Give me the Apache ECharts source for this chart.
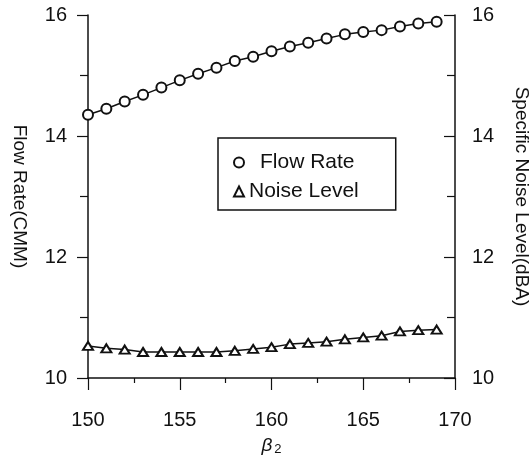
<!DOCTYPE html>
<html lang="en">
<head>
    <meta charset="UTF-8">
    <title>Flow Rate / Noise Level</title>
    <script src="https://cdn.jsdelivr.net/npm/echarts@6/dist/echarts.min.js"></script>
    <style>
        html, body { margin: 0; padding: 0; background: #fff; }
        #chart { width: 530px; height: 457px; }
    </style>
</head>
<body>
<div id="chart"></div>
<script>
    // beta2 values
    var beta2 = [150, 151, 152, 153, 154, 155, 156, 157, 158, 159,
                 160, 161, 162, 163, 164, 165, 166, 167, 168, 169];
    // Flow Rate (CMM), left axis
    var flowRate = [14.35, 14.45, 14.57, 14.68, 14.80, 14.92, 15.03, 15.13, 15.24, 15.31,
                    15.40, 15.48, 15.54, 15.61, 15.68, 15.72, 15.75, 15.81, 15.86, 15.89];
    // Specific noise level (dBA), right axis
    var noiseLevel = [10.53, 10.49, 10.47, 10.43, 10.43, 10.43, 10.43, 10.43, 10.45, 10.48,
                      10.51, 10.56, 10.58, 10.60, 10.64, 10.67, 10.70, 10.77, 10.79, 10.80];

    function pairs(ys) {
        return beta2.map(function (x, i) { return [x, ys[i]]; });
    }

    var font = "'Liberation Sans', Arial, sans-serif";
    var ink = '#111';

    var myChart = echarts.init(document.getElementById('chart'));

    function yAxisBase(pos, inside) {
        return {
            type: 'value',
            position: pos,
            min: 10,
            max: 16,
            interval: 2,
            axisLine: { show: true, lineStyle: { color: ink, width: 1.5 } },
            axisTick: { show: true, inside: inside, length: 11, lineStyle: { color: ink, width: 1.2 } },
            minorTick: { show: true, splitNumber: 2, length: 8, lineStyle: { color: ink, width: 1.2 } },
            splitLine: { show: false },
            axisLabel: { color: ink, fontSize: 20, fontFamily: font },
            nameLocation: 'middle',
            nameRotate: -90,
            nameTextStyle: { color: ink, fontSize: 19, fontFamily: font }
        };
    }

    var yLeft = yAxisBase('left', false);
    yLeft.name = 'Flow Rate(CMM)';
    yLeft.nameGap = 59;
    yLeft.axisLabel.margin = 21;

    var yRight = yAxisBase('right', true);
    yRight.name = 'Specific Noise Level(dBA)';
    yRight.nameGap = 57;
    yRight.axisLabel.margin = 17;

    option = {
        backgroundColor: '#fff',
        animation: false,
        grid: { left: 88, right: 75, top: 15, bottom: 79, containLabel: false, outerBoundsMode: 'none' },
        legend: {
            orient: 'vertical',
            left: 218,
            top: 138,
            borderColor: ink,
            borderWidth: 1.5,
            borderRadius: 0,
            padding: [14, 37, 8, 15],
            itemWidth: 10,
            itemHeight: 10,
            itemGap: 8,
            data: [
                { name: 'Flow Rate', icon: 'emptyCircle' },
                { name: 'Noise Level', icon: 'emptyTriangle' }
            ],
            formatter: function (name) {
                return name === 'Flow Rate' ? '{a|' + name + '}' : '{b|' + name + '}';
            },
            textStyle: {
                color: ink,
                fontSize: 21,
                fontFamily: font,
                rich: {
                    a: { fontSize: 21, fontFamily: font, color: ink, padding: [0, 0, 0, 11] },
                    b: { fontSize: 21, fontFamily: font, color: ink, padding: [0, 0, 0, 0] }
                }
            }
        },
        xAxis: {
            type: 'value',
            min: 150,
            max: 170,
            interval: 5,
            axisLine: { show: true, onZero: false, lineStyle: { color: ink, width: 1.5 } },
            axisTick: { show: true, length: 12, lineStyle: { color: ink, width: 1.2 } },
            minorTick: { show: true, splitNumber: 2, length: 5, lineStyle: { color: ink, width: 1.2 } },
            splitLine: { show: false },
            axisLabel: { color: ink, fontSize: 20, fontFamily: font, margin: 32 },
            name: '{b|β}{s|2}',
            nameLocation: 'middle',
            nameGap: 57,
            nameTextStyle: {
                rich: {
                    b: { fontSize: 19, fontStyle: 'italic', fontFamily: font, color: ink },
                    s: { fontSize: 13, fontFamily: font, color: ink, padding: [8, 0, 0, 2] }
                }
            }
        },
        yAxis: [yLeft, yRight],
        series: [{
            name: 'Flow Rate',
            type: 'line',
            yAxisIndex: 0,
            data: pairs(flowRate),
            symbol: 'emptyCircle',
            symbolSize: 10,
            lineStyle: { color: ink, width: 1.5 },
            itemStyle: { color: ink, borderColor: ink, borderWidth: 1.5 }
        }, {
            name: 'Noise Level',
            type: 'line',
            yAxisIndex: 1,
            data: pairs(noiseLevel),
            symbol: 'emptyTriangle',
            symbolSize: [10, 8],
            lineStyle: { color: ink, width: 1.5 },
            itemStyle: { color: ink, borderColor: ink, borderWidth: 1.5 }
        }]
    };

    myChart.setOption(option);
</script>
</body>
</html>
